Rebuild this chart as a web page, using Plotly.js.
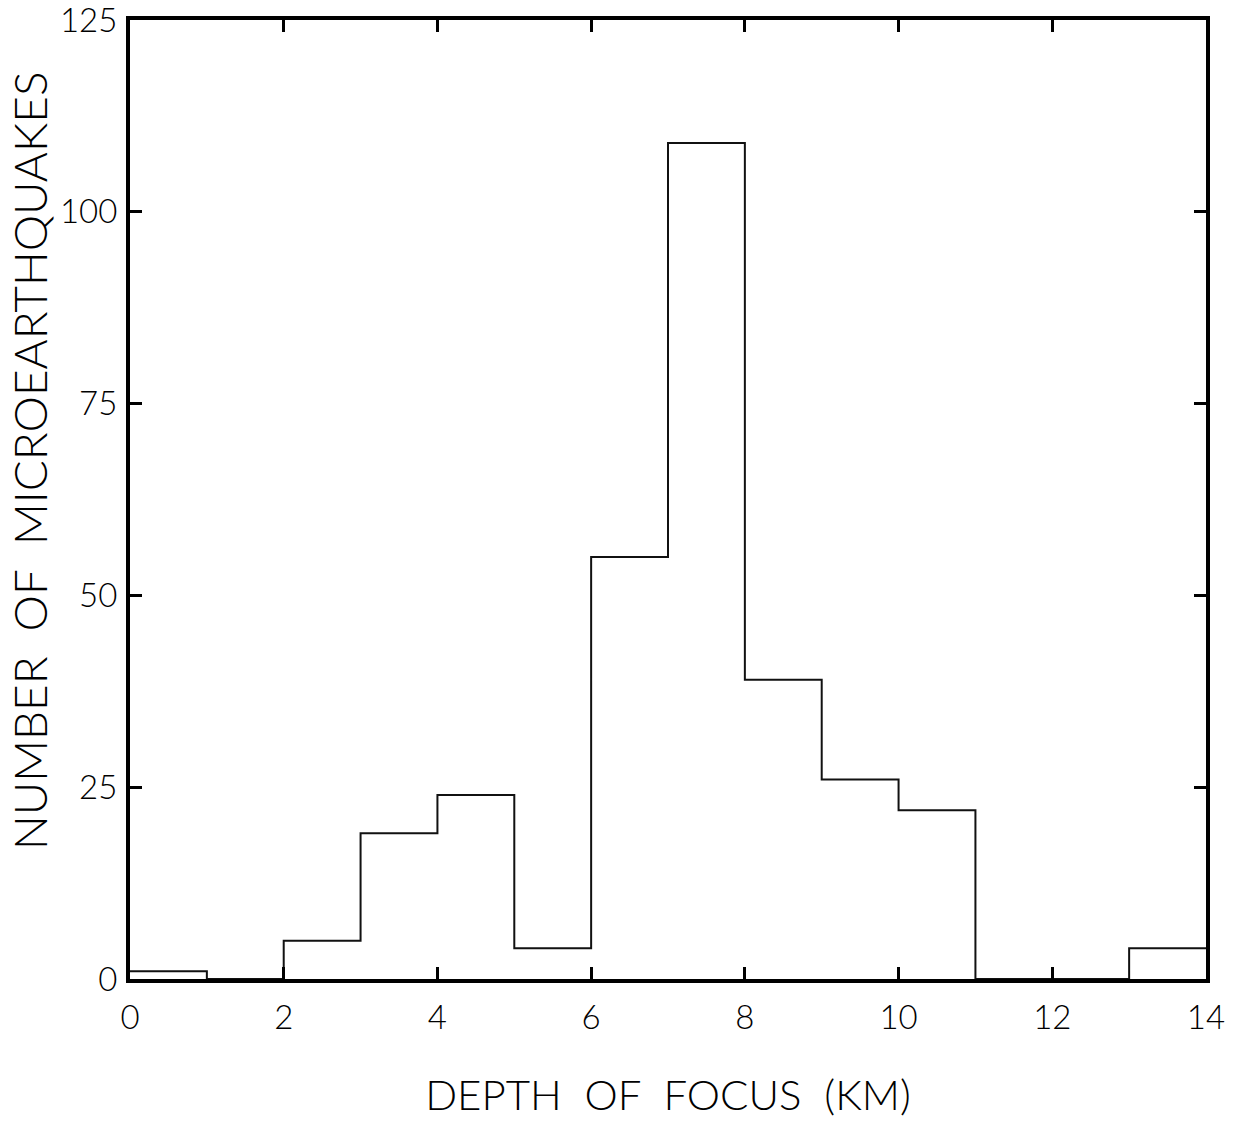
<!DOCTYPE html>
<html>
<head>
<meta charset="utf-8">
<script src="https://cdn.plot.ly/plotly-3.0.1.min.js"></script>
<style>html,body{margin:0;padding:0;background:#fff;}#chart{width:1240px;height:1135px;}</style>
</head>
<body>
<div id="chart"></div>
<script>
// Histogram of focal depths (1 km bins)
const binEdges = [0,1,2,3,4,5,6,7,8,9,10,11,12,13,14];
const counts   = [1,0,5,19,24,4,55,109,39,26,22,0,0,4];
const xTickVals = [0,2,4,6,8,10,12,14];
const yTickVals = [0,25,50,75,100,125];
const xTitle = 'DEPTH&nbsp;&nbsp;OF&nbsp;&nbsp;FOCUS&nbsp;&nbsp;(KM)';
const yTitle = 'NUMBER&nbsp;&nbsp;OF&nbsp;&nbsp;MICROEARTHQUAKES';

// step outline: repeat last count so the final bin reaches the right edge
const stepY = counts.concat([counts[counts.length-1]]);

const FONT = "Lato, 'DejaVu Sans', sans-serif";

const trace = {
  type: 'scatter',
  mode: 'lines',
  x: binEdges,
  y: stepY,
  line: {shape: 'hv', color: '#111', width: 2},
  hoverinfo: 'x+y',
  showlegend: false
};

const layout = {
  width: 1240, height: 1135,
  paper_bgcolor: '#fff', plot_bgcolor: '#fff',
  margin: {l: 130, r: 34, t: 20, b: 156},
  showlegend: false,
  font: {family: FONT, color: '#000', weight: 300},
  xaxis: {
    range: [0, 14],
    tickvals: xTickVals,
    ticktext: xTickVals.map(String),
    ticks: 'inside', ticklen: 12, tickwidth: 3, tickcolor: '#000',
    showline: true, linewidth: 4, linecolor: '#000', mirror: 'ticks',
    showgrid: false, zeroline: false,
    tickfont: {family: FONT, size: 33, color: '#000', weight: 300},
    ticklabelstandoff: 6,
    ticklabeloverflow: 'allow',
    title: {text: xTitle, font: {family: FONT, size: 42, color: '#000', weight: 300}, standoff: 47},
    fixedrange: true
  },
  yaxis: {
    range: [0, 125.02],
    tickvals: yTickVals,
    ticktext: yTickVals.map(String),
    ticks: 'inside', ticklen: 12, tickwidth: 3, tickcolor: '#000',
    showline: true, linewidth: 4, linecolor: '#000', mirror: 'ticks',
    showgrid: false, zeroline: false,
    tickfont: {family: FONT, size: 33, color: '#000', weight: 300},
    ticklabelstandoff: 2,
    ticklabeloverflow: 'allow',
    fixedrange: true
  },
  annotations: [{
    text: yTitle,
    xref: 'paper', yref: 'paper',
    x: -0.094, y: 0.541,
    xanchor: 'center', yanchor: 'middle',
    textangle: -90,
    showarrow: false,
    font: {family: FONT, size: 46, color: '#000', weight: 300}
  }]
};

Plotly.newPlot('chart', [trace], layout, {displayModeBar: false});
</script>
</body>
</html>
